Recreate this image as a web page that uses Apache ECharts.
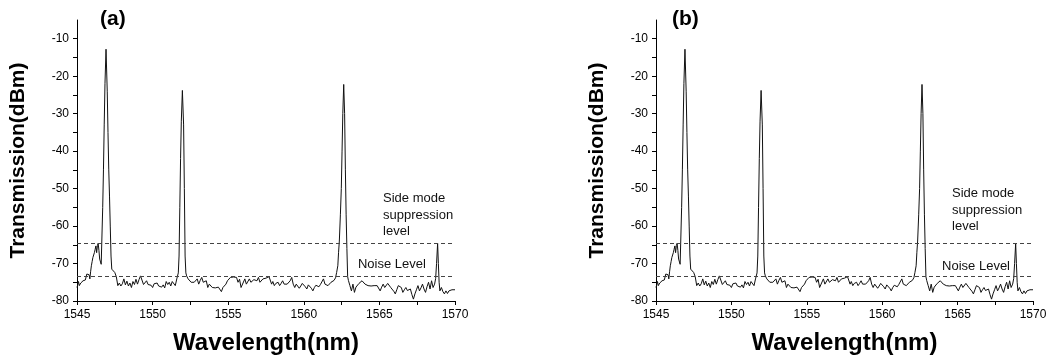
<!DOCTYPE html>
<html>
<head>
<meta charset="utf-8">
<script src="https://cdn.jsdelivr.net/npm/echarts@6/dist/echarts.min.js"></script>
<style>
html,body{margin:0;padding:0;background:#fff;}
#chart{width:1050px;height:360px;}
</style>
</head>
<body>
<div id="chart"></div>
<script>
// ---- data ----
const panelLabels = ['(a)', '(b)'];
const xTitle = 'Wavelength(nm)';
const yTitle = 'Transmission(dBm)';
const xTickLabels = [1545, 1550, 1555, 1560, 1565, 1570];
const xTicks = [1545, 1547.5, 1550, 1552.5, 1555, 1557.5, 1560, 1562.5, 1565, 1567.5, 1570];
const yTickLabels = [-80, -70, -60, -50, -40, -30, -20, -10];
const yTicks = [-80, -75, -70, -65, -60, -55, -50, -45, -40, -35, -30, -25, -20, -15, -10];
const smsLevel = -64.7;
const noiseLevel = -73.4;
const smsText = 'Side mode\nsuppression\nlevel';
const noiseText = 'Noise Level';

// [wavelength nm, transmission dBm]
const spectrum = [
[1545.0,-76.4],[1545.05,-75.6],[1545.1,-74.8],[1545.15,-75.9],[1545.2,-75.9],[1545.25,-75.2],[1545.3,-75.0],[1545.4,-74.6],
[1545.5,-75.1],[1545.55,-74.4],[1545.6,-73.6],[1545.65,-72.8],[1545.7,-73.2],[1545.75,-72.4],[1545.8,-73.0],[1545.85,-74.1],
[1545.9,-72.2],[1545.95,-70.6],[1546.0,-69.5],[1546.05,-68.4],[1546.1,-68.0],[1546.15,-67.1],[1546.2,-66.2],[1546.25,-65.3],
[1546.3,-67.1],[1546.35,-65.2],[1546.4,-64.6],[1546.45,-66.5],[1546.5,-68.8],[1546.55,-69.3],[1546.6,-70.2],[1546.65,-70.5],
[1546.7,-55],[1546.75,-45],[1546.8,-33],[1546.85,-22],[1546.92,-12.8],[1547.0,-24],[1547.05,-35],[1547.1,-45],[1547.15,-52],
[1547.2,-60],[1547.25,-68],[1547.3,-71.5],[1547.4,-72.0],[1547.5,-72.4],[1547.6,-73.5],[1547.7,-75.9],[1547.8,-75.2],
[1547.9,-76.0],[1548.0,-75.4],[1548.1,-74.1],[1548.2,-75.7],[1548.3,-74.7],[1548.4,-76.0],[1548.5,-75.2],[1548.6,-76.4],
[1548.7,-74.8],[1548.8,-75.6],[1548.9,-74.2],[1549.0,-75.5],[1549.1,-74.3],[1549.2,-73.3],[1549.3,-73.5],[1549.4,-75.6],
[1549.5,-76.0],[1549.6,-74.6],[1549.7,-75.6],[1549.8,-75.1],[1549.9,-75.8],[1550.0,-76.4],[1550.1,-75.4],[1550.2,-75.8],
[1550.3,-75.2],[1550.4,-76.0],[1550.5,-75.5],[1550.6,-76.3],[1550.7,-75.7],[1550.8,-76.5],[1550.9,-74.8],[1551.0,-75.6],
[1551.1,-75.0],[1551.2,-76.0],[1551.3,-74.8],[1551.4,-74.6],[1551.5,-75.9],[1551.6,-74.1],[1551.7,-72.5],[1551.75,-68],
[1551.8,-55],[1551.85,-42],[1551.9,-32],[1551.97,-23.8],[1552.05,-33],[1552.1,-50],[1552.15,-68],[1552.2,-72.5],
[1552.25,-73.3],[1552.35,-74.1],[1552.45,-74.6],[1552.55,-75.0],[1552.65,-74.6],[1552.75,-75.0],[1552.85,-74.6],[1552.95,-74.1],
[1553.05,-75.5],[1553.15,-74.5],[1553.25,-73.7],[1553.35,-75.0],[1553.45,-75.5],[1553.55,-74.6],[1553.65,-76.4],[1553.75,-75.5],
[1553.85,-76.0],[1553.95,-76.4],[1554.05,-75.9],[1554.15,-76.5],[1554.25,-76.8],[1554.35,-76.3],[1554.45,-76.8],[1554.55,-77.5],
[1554.65,-76.4],[1554.75,-75.9],[1554.85,-75.5],[1554.95,-74.6],[1555.05,-74.2],[1555.15,-73.7],[1555.25,-74.1],[1555.35,-73.6],
[1555.45,-74.1],[1555.55,-73.7],[1555.65,-75.0],[1555.75,-74.2],[1555.85,-76.4],[1555.95,-75.9],[1556.1,-74.1],[1556.2,-75.5],
[1556.3,-75.0],[1556.4,-74.1],[1556.5,-75.0],[1556.6,-75.5],[1556.7,-74.3],[1556.8,-74.1],[1556.9,-74.6],[1557.0,-73.7],
[1557.1,-75.0],[1557.2,-74.5],[1557.3,-74.1],[1557.4,-74.1],[1557.5,-73.9],[1557.6,-73.7],[1557.7,-73.5],[1557.77,-73.3],
[1557.87,-75.5],[1557.95,-74.8],[1558.05,-75.9],[1558.15,-75.3],[1558.3,-75.0],[1558.4,-75.9],[1558.5,-75.3],[1558.6,-74.6],
[1558.7,-75.5],[1558.8,-75.0],[1558.9,-75.5],[1559.0,-75.0],[1559.1,-74.6],[1559.2,-73.7],[1559.3,-75.5],[1559.4,-76.4],
[1559.5,-75.5],[1559.6,-75.9],[1559.7,-76.6],[1559.8,-76.0],[1559.9,-75.3],[1560.0,-75.5],[1560.1,-76.2],[1560.2,-76.8],
[1560.3,-75.7],[1560.4,-75.9],[1560.5,-76.6],[1560.6,-77.3],[1560.7,-76.4],[1560.8,-75.8],[1560.9,-75.9],[1561.0,-76.2],
[1561.1,-75.6],[1561.2,-75.5],[1561.3,-74.1],[1561.4,-75.5],[1561.5,-75.2],[1561.6,-75.9],[1561.7,-75.5],[1561.8,-75.0],
[1561.9,-74.8],[1562.0,-74.5],[1562.1,-73.8],[1562.17,-72.4],[1562.25,-70.6],[1562.3,-67],[1562.35,-64],[1562.42,-57],
[1562.48,-50],[1562.53,-40],[1562.58,-30],[1562.64,-22.2],[1562.7,-30],[1562.75,-45],[1562.8,-57],[1562.85,-66],
[1562.9,-73.5],[1562.95,-74.5],[1563.05,-75.9],[1563.15,-77.3],[1563.25,-75.5],[1563.35,-77.7],[1563.45,-76.3],[1563.55,-75.9],
[1563.65,-75.3],[1563.75,-75.0],[1563.85,-74.6],[1563.95,-74.8],[1564.05,-75.5],[1564.15,-75.4],[1564.25,-75.9],[1564.35,-75.7],
[1564.45,-76.0],[1564.55,-75.5],[1564.65,-75.9],[1564.75,-76.4],[1564.85,-75.9],[1564.95,-76.1],[1565.05,-77.3],[1565.15,-76.3],
[1565.25,-75.5],[1565.35,-76.4],[1565.45,-75.9],[1565.55,-75.3],[1565.65,-75.0],[1565.75,-76.4],[1565.85,-76.8],[1565.95,-77.4],
[1566.05,-78.1],[1566.15,-77.0],[1566.25,-75.9],[1566.35,-75.5],[1566.45,-76.4],[1566.55,-77.7],[1566.65,-77.0],[1566.75,-76.4],
[1566.85,-77.2],[1566.95,-76.8],[1567.05,-76.8],[1567.15,-78.3],[1567.25,-79.5],[1567.35,-78.1],[1567.45,-77.0],[1567.55,-75.9],
[1567.65,-77.3],[1567.75,-76.5],[1567.85,-75.5],[1567.95,-76.8],[1568.05,-77.7],[1568.15,-76.2],[1568.25,-75.0],[1568.35,-76.8],
[1568.45,-74.6],[1568.55,-76.4],[1568.65,-75.5],[1568.72,-74.0],[1568.78,-70],[1568.85,-64.6],[1568.9,-70],[1568.95,-75],
[1569.0,-77.3],[1569.1,-76.4],[1569.2,-77.5],[1569.3,-78.1],[1569.4,-77.3],[1569.5,-78.0],[1569.6,-77.3],[1569.7,-77.7],
[1569.8,-77.0],[1569.9,-77.5],[1570.0,-77.0]
];
const panelData = [spectrum, spectrum];
// annotation anchors in data units [panel][nm, dBm]
const smsAnchor = [[1565.24, -57.1], [1564.63, -55.8]];
const noiseAnchor = [[1563.58, -70.15], [1563.97, -70.7]];

// ---- chart ----
const FONT = '"Liberation Sans", Arial, sans-serif';
const chart = echarts.init(document.getElementById('chart'), null, {renderer: 'canvas'});
const grids = [
  {left: 77, top: 20, width: 378, height: 282},
  {left: 656, top: 20, width: 377, height: 282}
];
const option = {
  animation: false,
  backgroundColor: '#fff',
  title: panelLabels.map((t, i) => ({
    text: t, left: i === 0 ? 95 : 667, top: 4,
    textStyle: {fontFamily: FONT, fontWeight: 'bold', fontSize: 21, color: '#000'}
  })),
  grid: grids,
  xAxis: grids.map((g, i) => ({
    type: 'value', gridIndex: i, min: 1545, max: 1570, interval: 2.5,
    name: xTitle, nameLocation: 'middle', nameGap: 30,
    nameTextStyle: {fontFamily: FONT, fontWeight: 'bold', fontSize: 24, color: '#000'},
    axisLine: {show: true, onZero: false, lineStyle: {color: '#000', width: 1}},
    axisTick: {show: true, length: 4, lineStyle: {color: '#000'}},
    axisLabel: {fontFamily: FONT, fontSize: 12, color: '#000', margin: 8,
      formatter: v => xTickLabels.indexOf(v) >= 0 ? String(v) : ''},
    splitLine: {show: false}
  })),
  yAxis: grids.map((g, i) => ({
    type: 'value', gridIndex: i, min: -80, max: -5, interval: 5,
    name: yTitle, nameLocation: 'middle', nameGap: 48,
    nameTextStyle: {fontFamily: FONT, fontWeight: 'bold', fontSize: 21, color: '#000'},
    axisLine: {show: true, onZero: false, lineStyle: {color: '#000', width: 1}},
    axisTick: {show: true, length: 4, customValues: yTicks, lineStyle: {color: '#000'}},
    axisLabel: {fontFamily: FONT, fontSize: 12, color: '#000', margin: 8,
      customValues: yTickLabels, formatter: v => String(v)},
    splitLine: {show: false}
  })),
  series: panelData.map((d, i) => ({
    type: 'line', xAxisIndex: i, yAxisIndex: i, data: d,
    showSymbol: false, symbol: 'none',
    lineStyle: {color: '#111', width: 1},
    markLine: {
      silent: true, symbol: 'none', label: {show: false},
      lineStyle: {color: '#444', width: 1, type: [4, 3]},
      data: [{yAxis: smsLevel}, {yAxis: noiseLevel}]
    }
  }))
};
chart.setOption(option);

const graphics = [];
for (let i = 0; i < 2; i++) {
  const p1 = chart.convertToPixel({xAxisIndex: i, yAxisIndex: i}, smsAnchor[i]);
  const p2 = chart.convertToPixel({xAxisIndex: i, yAxisIndex: i}, noiseAnchor[i]);
  graphics.push({type: 'text', x: p1[0], y: p1[1], style: {
    text: smsText, font: '13px ' + FONT, fill: '#111', lineHeight: 16.5,
    align: 'left', verticalAlign: 'middle'}});
  graphics.push({type: 'text', x: p2[0], y: p2[1], style: {
    text: noiseText, font: '13px ' + FONT, fill: '#111',
    align: 'left', verticalAlign: 'middle'}});
}
chart.setOption({graphic: graphics});
</script>
</body>
</html>
